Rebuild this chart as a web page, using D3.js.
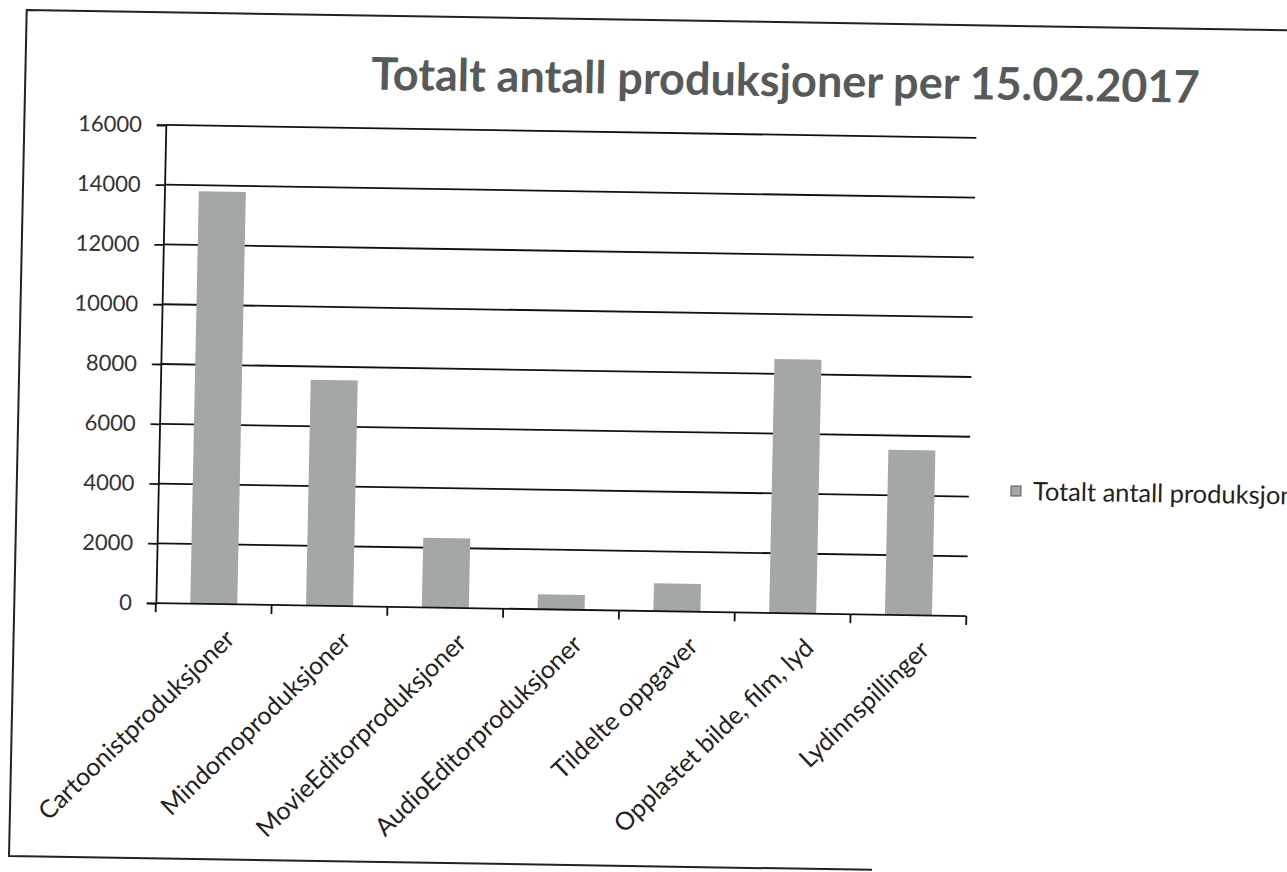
<!DOCTYPE html>
<html>
<head>
<meta charset="utf-8">
<script src="https://cdn.jsdelivr.net/npm/d3@7"></script>
<style>
  html, body { margin: 0; padding: 0; background: #fff; overflow: hidden; }
  text { font-family: Lato, "Open Sans", sans-serif; }
</style>
</head>
<body>
<div id="chart"></div>
<script>
// data
var categories = ["Cartoonistproduksjoner", "Mindomoproduksjoner", "MovieEditorproduksjoner",
                  "AudioEditorproduksjoner", "Tildelte oppgaver", "Opplastet bilde, film, lyd",
                  "Lydinnspillinger"];
var values = [13800, 7550, 2330, 500, 930, 8500, 5520];
var yTicks = [0, 2000, 4000, 6000, 8000, 10000, 12000, 14000, 16000];
var seriesName = "Totalt antall produksjoner";
var title = "Totalt antall produksjoner per 15.02.2017";

var W = 1287, H = 872;
var plotLeft = 159.5, plotRight = 970, plotTop = 132.6, plotBottom = 610.8;

var svg = d3.select("#chart").append("svg")
    .attr("width", W).attr("height", H);

// the scan is slightly skewed: horizontal lines drop to the right, verticals lean right
var g = svg.append("g").attr("transform", "matrix(1,0.016,-0.0209,1,9.11,-10.24)");

// outer frame (right side is off the page)
g.append("path")
    .attr("d", "M1320,20 L18,20 L18,866 L881,866")
    .attr("fill", "none").attr("stroke", "#222").attr("stroke-width", 2);

var x = d3.scaleBand().domain(categories).range([plotLeft, plotRight])
    .paddingInner(0.594).paddingOuter(0.297);
var y = d3.scaleLinear().domain([0, 16000]).range([plotBottom, plotTop]);

// gridlines
g.append("g").selectAll("line").data(yTicks.slice(1)).join("line")
    .attr("x1", plotLeft).attr("x2", plotRight)
    .attr("y1", function (d) { return y(d); }).attr("y2", function (d) { return y(d); })
    .attr("stroke", "#111").attr("stroke-width", 1.8);

// bars
g.append("g").selectAll("rect").data(values).join("rect")
    .attr("x", function (d, i) { return x(categories[i]); })
    .attr("y", function (d) { return y(d); })
    .attr("width", x.bandwidth())
    .attr("height", function (d) { return y(0) - y(d); })
    .attr("fill", "#a4a8a5");

// y axis
var yAxis = g.append("g").attr("transform", "translate(" + plotLeft + ",0)")
    .call(d3.axisLeft(y).tickValues(yTicks).tickSize(9).tickPadding(15).tickFormat(d3.format("d")));
yAxis.select(".domain").attr("stroke", "#111").attr("stroke-width", 1.8);
yAxis.selectAll(".tick line").attr("stroke", "#111").attr("stroke-width", 1.8);
yAxis.selectAll(".tick text").attr("font-size", 22).attr("fill", "#333")
    .style("font-family", "Lato, sans-serif");

// x axis line and ticks at category boundaries
var step = x.step();
g.append("line").attr("x1", plotLeft).attr("x2", plotRight).attr("y1", plotBottom).attr("y2", plotBottom)
    .attr("stroke", "#111").attr("stroke-width", 1.8);
g.append("g").selectAll("line").data(d3.range(categories.length + 1)).join("line")
    .attr("x1", function (i) { return plotLeft + i * step; })
    .attr("x2", function (i) { return plotLeft + i * step; })
    .attr("y1", plotBottom).attr("y2", plotBottom + 9)
    .attr("stroke", "#111").attr("stroke-width", 1.8);

// category labels
g.append("g").selectAll("text").data(categories).join("text")
    .attr("transform", function (d) {
        return "translate(" + (x(d) + x.bandwidth() / 2 + 17) + "," + (plotBottom + 30) + ") rotate(-45)";
    })
    .attr("text-anchor", "end").attr("dy", "0.35em")
    .attr("font-size", 25).attr("fill", "#222")
    .text(function (d) { return d; });

// title
g.append("text").attr("x", 778).attr("y", 94)
    .attr("text-anchor", "middle").attr("font-size", 45).attr("font-weight", "bold")
    .attr("fill", "#565a5a").text(title);

// legend
g.append("rect").attr("x", 1012).attr("y", 480).attr("width", 10).attr("height", 10)
    .attr("fill", "#a4a8a5").attr("stroke", "#555").attr("stroke-width", 1);
g.append("text").attr("x", 1034).attr("y", 494)
    .attr("font-size", 25.5).attr("fill", "#222").text(seriesName);
</script>
</body>
</html>
